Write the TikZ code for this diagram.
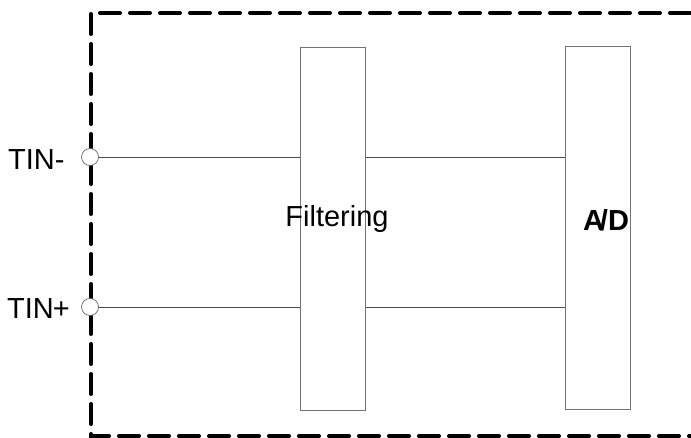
\documentclass[tikz,border=0pt]{standalone}
\usepackage{fontspec}
\setmainfont{Liberation Sans}
\begin{document}
\begin{tikzpicture}[x=1pt,y=-1pt,
  blockbox/.style={draw=black!55, line width=1pt, minimum width=65pt, minimum height=362pt, inner sep=0pt},
  wire/.style={draw=black!70, line width=0.7pt},
  term/.style={circle, draw=black!60, fill=white, line width=0.7pt, minimum size=17pt, inner sep=0pt},
  lbl/.style={font=\fontsize{29}{29}\selectfont, inner sep=0pt}]
\useasboundingbox (0,0) rectangle (691,438);
\draw[line width=4pt, dash pattern=on 20pt off 10pt, line cap=round] (720,13) -- (91,13) -- (91,436) -- (720,436);
\node[blockbox] (filt) at (332.5,229) {};
\node[blockbox] (ad) at (598,228) {};
\node[term] (tm) at (90,157) {};
\node[term] (tp) at (90,307) {};
\node[lbl, anchor=base west] (ltm) at (8,170) {TIN-};
\node[lbl, anchor=base west] (ltp) at (7,319) {TIN\kern-1pt+};
\path[wire] (tm.east) -- (tm.east -| filt.west);
\path[wire] (tp.east) -- (tp.east -| filt.west);
\path[wire] (tm -| filt.east) -- (tm -| ad.west);
\path[wire] (tp -| filt.east) -- (tp -| ad.west);
\node[lbl, anchor=base] (ftxt) at (337,227) {Filtering};
\node[lbl, font=\fontsize{29}{29}\selectfont\bfseries, anchor=base] (adtxt) at (606,231) {A\kern-4pt/D};
\end{tikzpicture}
\end{document}
